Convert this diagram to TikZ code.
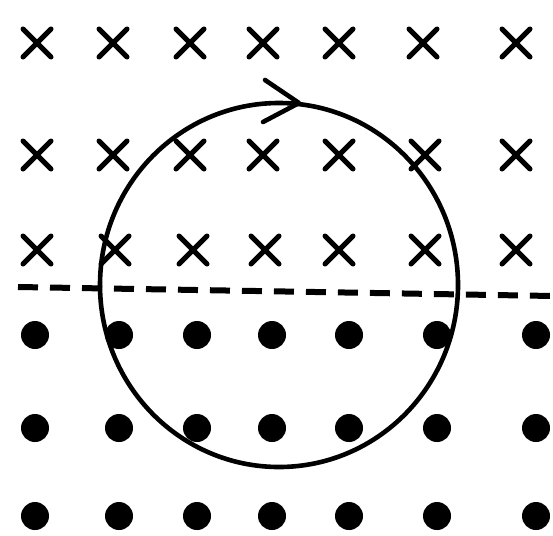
\documentclass[tikz,border=0pt]{standalone}
\begin{document}
\begin{tikzpicture}[x=1pt,y=-1pt,
  crossmark/.style={line width=5pt,line cap=round},
  dotmark/.style={fill=black},
  loop/.style={line width=4.6pt},
  divider/.style={line width=6pt,dash pattern=on 20pt off 12pt}]
\useasboundingbox (0,0) rectangle (553,535);
% crosses
\foreach \y/\xs in {43/{37,113,190,263,339,423,516},
                    155/{37,113,190,263,339,425,516},
                    250/{37,115,193,265,339,425,516}}{
  \foreach \x in \xs {
    \draw[crossmark] (\x-14,\y-14) -- (\x+14,\y+14) (\x-14,\y+14) -- (\x+14,\y-14);
  }
}
% dots
\foreach \y in {335,428,516}{
  \foreach \x in {35,119,197,272,349,437,536}{
    \fill[dotmark] (\x,\y) circle (14);
  }
}
% dashed boundary
\coordinate (dl) at (18,287);
\coordinate (dr) at (553,296);
\draw[divider] (dl) -- (dr);
% loop
\coordinate (c) at (279,285);
\draw[loop] (c) ellipse [x radius=179,y radius=182];
% arrow
\coordinate (tip) at (299,103);
\draw[loop,line cap=round,line join=round] (265,80) -- (tip) -- (263,122);
\end{tikzpicture}
\end{document}
